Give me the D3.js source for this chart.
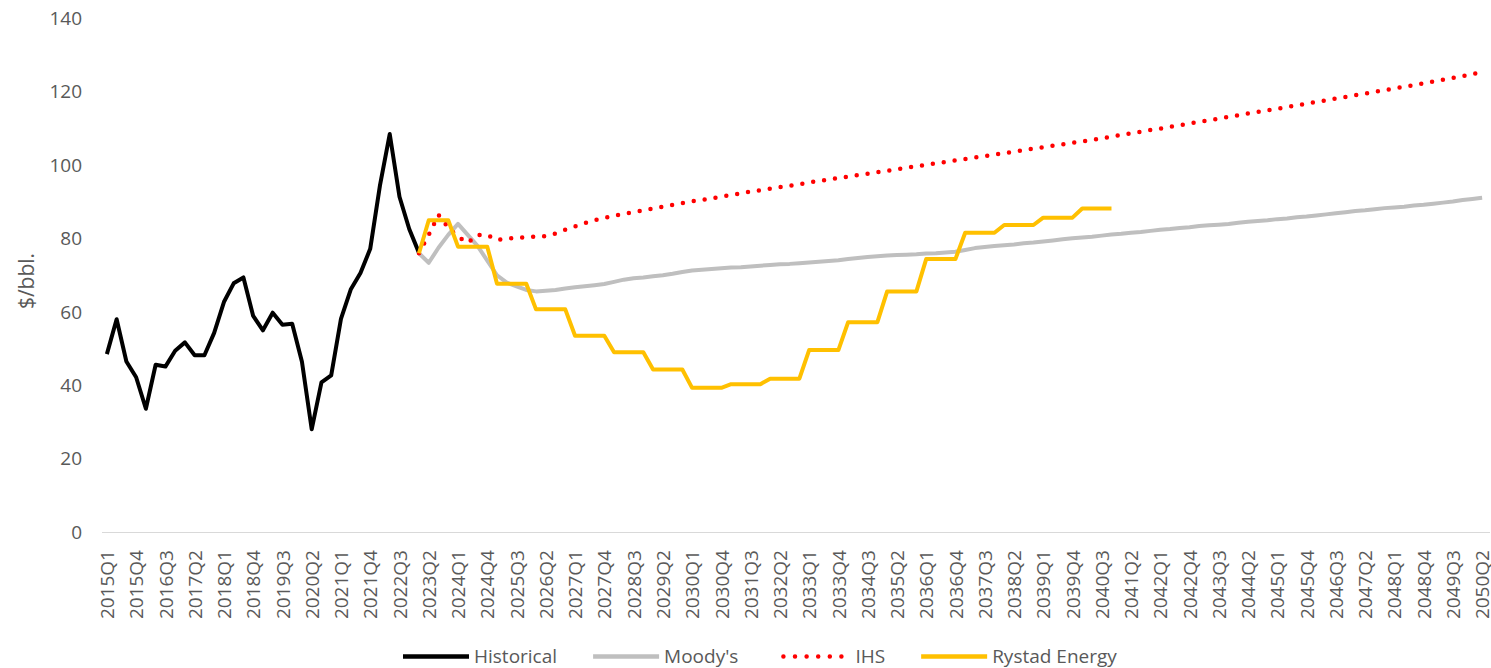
<!DOCTYPE html>
<html>
<head>
<meta charset="utf-8">
<script src="https://cdn.jsdelivr.net/npm/d3@7"></script>
<style>
  html, body { margin: 0; padding: 0; background: #fff; }
  svg { display: block; }
  text { font-family: "Open Sans", "Liberation Sans", sans-serif; fill: #595959; }
</style>
</head>
<body>
<svg id="chart" width="1491" height="668"></svg>
<script>
// ---------- DATA ----------
const firstYear = 2015, lastYear = 2050, lastQuarter = 2;
const categories = [];
for (let y = firstYear; y <= lastYear; y++) {
  for (let q = 1; q <= 4; q++) {
    if (y === lastYear && q > lastQuarter) break;
    categories.push(y + "Q" + q);
  }
}
const tickLabels = categories.filter((d, i) => i % 3 === 0);
const yTicks = [0, 20, 40, 60, 80, 100, 120, 140];
const yTitle = "$/bbl.";

// Historical, from 2015Q1
const historicalStart = "2015Q1";
const historical = [48.5, 58, 46.5, 42.2, 33.6, 45.6, 45.1, 49.4, 51.7, 48.2, 48.2, 54.3,
  62.7, 67.8, 69.4, 58.9, 55, 59.8, 56.5, 56.8, 46.4, 28, 40.8, 42.7,
  58.1, 66.1, 70.6, 77.2, 94.5, 108.5, 91.4, 82.6, 76.1];

// Forecasts, from 2023Q1
const forecastStart = "2023Q1";
const moodys = [76, 73.4, 77.5, 81, 84, 81, 78, 74, 70, 68, 67, 66,
  65.6, 65.8, 66, 66.4, 66.7, 67, 67.3, 67.6, 68.2, 68.8, 69.2, 69.4,
  69.7, 70, 70.4, 70.9, 71.3, 71.5, 71.7, 71.9, 72.1, 72.2, 72.4, 72.6,
  72.8, 73, 73.1, 73.3, 73.5, 73.7, 73.9, 74.1, 74.4, 74.7, 75, 75.2,
  75.4, 75.5, 75.6, 75.7, 75.9, 76, 76.2, 76.4, 76.9, 77.4, 77.7, 78,
  78.2, 78.4, 78.7, 78.9, 79.2, 79.5, 79.8, 80.1, 80.3, 80.5, 80.8, 81.1,
  81.3, 81.6, 81.8, 82.1, 82.4, 82.6, 82.9, 83.1, 83.4, 83.6, 83.8, 84,
  84.3, 84.6, 84.8, 85, 85.3, 85.5, 85.8, 86, 86.3, 86.6, 86.9, 87.2,
  87.5, 87.7, 88, 88.3, 88.5, 88.7, 89, 89.2, 89.5, 89.8, 90.1, 90.5,
  90.8, 91.1];
const ihs = [76, 81, 86.5, 83, 80.5, 78.8, 81, 81, 79.6, 80, 80.2, 80.4,
  80.5, 80.7, 81.4, 82.4, 83.3, 84.2, 85, 85.6, 86.2, 86.7, 87.2, 87.7,
  88.2, 88.7, 89.2, 89.7, 90.2, 90.5, 91, 91.4, 91.9, 92.3, 92.8, 93.2,
  93.6, 94, 94.4, 94.8, 95.3, 95.7, 96.1, 96.5, 96.9, 97.3, 97.7, 98.1,
  98.5, 98.9, 99.3, 99.7, 100.1, 100.5, 100.9, 101.3, 101.7, 102.1, 102.5, 102.9,
  103.3, 103.7, 104.1, 104.5, 104.9, 105.3, 105.7, 106.1, 106.5, 106.9, 107.3, 107.8,
  108.3, 108.7, 109.1, 109.6, 110, 110.5, 110.9, 111.4, 111.8, 112.3, 112.7, 113.2,
  113.6, 114.1, 114.5, 115, 115.4, 115.9, 116.3, 116.8, 117.3, 117.7, 118.2, 118.6,
  119.1, 119.5, 120, 120.5, 120.9, 121.4, 121.8, 122.3, 122.8, 123.3, 123.8, 124.3,
  124.8, 125.5];
const rystad = [76, 85, 85, 85,
  77.8, 77.8, 77.8, 77.8,
  67.7, 67.7, 67.7, 67.7,
  60.7, 60.7, 60.7, 60.7,
  53.5, 53.5, 53.5, 53.5,
  49, 49, 49, 49,
  44.3, 44.3, 44.3, 44.3,
  39.3, 39.3, 39.3, 39.3,
  40.3, 40.3, 40.3, 40.3,
  41.8, 41.8, 41.8, 41.8,
  49.6, 49.6, 49.6, 49.6,
  57.2, 57.2, 57.2, 57.2,
  65.6, 65.6, 65.6, 65.6,
  74.4, 74.4, 74.4, 74.4,
  81.6, 81.6, 81.6, 81.6,
  83.7, 83.7, 83.7, 83.7,
  85.7, 85.7, 85.7, 85.7,
  88.2, 88.2, 88.2, 88.2];

const seriesNames = ["Historical", "Moody's", "IHS", "Rystad Energy"];
const seriesColors = ["#000000", "#bfbfbf", "#ff0000", "#ffc000"];

// ---------- CHART ----------
const svg = d3.select("#chart");
const plot = { left: 102, right: 1487, top: 18.5, bottom: 532 };

const x = d3.scalePoint().domain(categories).range([plot.left, plot.right]).padding(0.5);
const y = d3.scaleLinear().domain([0, 140]).range([plot.bottom, plot.top]);

function toPoints(values, start) {
  const s = categories.indexOf(start);
  return values.map((v, i) => ({ c: categories[s + i], v }));
}

const series = [
  { name: seriesNames[0], color: seriesColors[0], pts: toPoints(historical, historicalStart), dotted: false },
  { name: seriesNames[1], color: seriesColors[1], pts: toPoints(moodys, forecastStart), dotted: false },
  { name: seriesNames[2], color: seriesColors[2], pts: toPoints(ihs, forecastStart), dotted: true },
  { name: seriesNames[3], color: seriesColors[3], pts: toPoints(rystad, forecastStart), dotted: false }
];

// Y axis labels
const yAxis = d3.axisLeft(y).tickValues(yTicks).tickSize(0).tickPadding(0);
const yg = svg.append("g").attr("transform", "translate(82,0)").call(yAxis);
yg.select(".domain").remove();
yg.selectAll("text").attr("font-size", 19).attr("font-family", null).attr("fill", "#595959");

// X axis
const xAxis = d3.axisBottom(x).tickValues(tickLabels).tickSize(0).tickPadding(0);
const xg = svg.append("g").attr("transform", `translate(0,${plot.bottom})`).call(xAxis);
xg.select(".domain").attr("stroke", "#d9d9d9").attr("stroke-width", 1)
  .attr("d", `M${plot.left},0.5H${plot.right + 3}`);
xg.selectAll("text")
  .attr("font-size", 19).attr("font-family", null).attr("fill", "#595959")
  .attr("text-anchor", "end")
  .attr("transform", "rotate(-90)")
  .attr("x", -18).attr("y", 0).attr("dy", "0.35em");

// Y title
svg.append("text")
  .attr("transform", "translate(27,281) rotate(-90)")
  .attr("text-anchor", "middle")
  .attr("dy", "0.35em")
  .attr("font-size", 21)
  .text(yTitle);

// Lines
const line = d3.line().x(d => x(d.c)).y(d => y(d.v));
series.forEach(s => {
  const p = svg.append("path")
    .datum(s.pts)
    .attr("fill", "none")
    .attr("stroke", s.color)
    .attr("d", line);
  if (s.dotted) {
    p.attr("stroke-width", 4.5).attr("stroke-linecap", "round").attr("stroke-dasharray", "0 11");
  } else {
    p.attr("stroke-width", 4).attr("stroke-linejoin", "round");
  }
});

// Legend
const legY = 656.5;
let lx = 403;
const lg = svg.append("g");
series.forEach(s => {
  let textX;
  if (s.dotted) {
    lg.append("line")
      .attr("x1", lx + 9).attr("x2", lx + 67.5).attr("y1", legY).attr("y2", legY)
      .attr("stroke", s.color)
      .attr("stroke-width", 4.5).attr("stroke-linecap", "round").attr("stroke-dasharray", "0 11.6");
    textX = lx + 81;
  } else {
    lg.append("line")
      .attr("x1", lx).attr("x2", lx + 66).attr("y1", legY).attr("y2", legY)
      .attr("stroke", s.color).attr("stroke-width", 4.5);
    textX = lx + 71;
  }
  const t = lg.append("text")
    .attr("x", textX).attr("y", legY).attr("dy", "0.33em")
    .attr("font-size", 19)
    .text(s.name);
  lx = textX + t.node().getComputedTextLength() + 36;
});
</script>
</body>
</html>
